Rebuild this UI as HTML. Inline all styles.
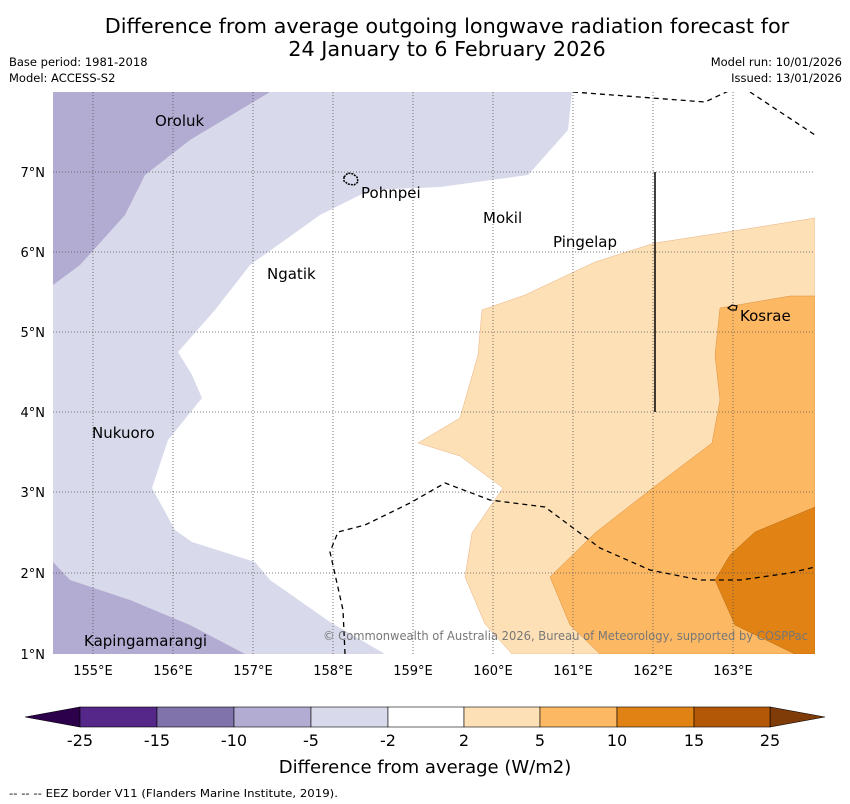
<!DOCTYPE html>
<html><head><meta charset="utf-8"><style>
body{margin:0;background:#fff;font-family:"DejaVu Sans","Liberation Sans",sans-serif}
svg{display:block}
</style></head><body>
<svg width="850" height="804" viewBox="0 0 850 804" font-family="DejaVu Sans, Liberation Sans, sans-serif">
<text x="447" y="33" font-size="20.8" text-anchor="middle">Difference from average outgoing longwave radiation forecast for</text>
<text x="447" y="56" font-size="20.8" text-anchor="middle">24 January to 6 February 2026</text>
<text x="9" y="66" font-size="11.5">Base period: 1981-2018</text>
<text x="9" y="82" font-size="11.5">Model: ACCESS-S2</text>
<text x="842" y="66" font-size="11.5" text-anchor="end">Model run: 10/01/2026</text>
<text x="842" y="82" font-size="11.5" text-anchor="end">Issued: 13/01/2026</text>
<defs><clipPath id="mc"><rect x="53" y="92" width="762" height="562"/></clipPath></defs>
<g clip-path="url(#mc)">
<rect x="53" y="92" width="762" height="562" fill="#fff"/>
<polygon fill="#d8daeb" points="53,92 572,92 568,130 528,175 440,187 370,190 320,215 250,265 215,310 178,352 192,375 202,398 168,440 152,488 175,530 192,542 255,562 270,580 330,622 385,654 53,654"/>
<polygon fill="#b2abd2" points="53,92 270,92 190,140 145,175 125,215 80,265 53,285"/>
<polygon fill="#b2abd2" points="53,562 70,580 130,600 190,625 245,654 53,654"/>
<polygon fill="#fee0b6" stroke="#e8b080" stroke-width="0.5" points="815,218 740,230 655,243 595,262 525,295 482,310 478,355 460,418 418,443 460,456 503,488 472,533 465,577 485,624 512,654 815,654"/>
<polygon fill="#fdb863" stroke="#d99040" stroke-width="0.5" points="815,296 790,296 720,308 715,355 720,400 712,443 650,490 595,533 550,577 570,625 600,654 815,654"/>
<polygon fill="#e08214" stroke="#b86a10" stroke-width="0.5" points="815,507 755,532 730,555 715,580 735,625 795,654 815,654"/>
<g stroke="#555" stroke-width="0.8" stroke-dasharray="1,2">
<line x1="93" y1="92" x2="93" y2="654"/><line x1="173" y1="92" x2="173" y2="654"/><line x1="253" y1="92" x2="253" y2="654"/><line x1="333" y1="92" x2="333" y2="654"/><line x1="413" y1="92" x2="413" y2="654"/><line x1="493" y1="92" x2="493" y2="654"/><line x1="573" y1="92" x2="573" y2="654"/><line x1="653" y1="92" x2="653" y2="654"/><line x1="733" y1="92" x2="733" y2="654"/>
<line x1="53" y1="172" x2="815" y2="172"/><line x1="53" y1="252" x2="815" y2="252"/><line x1="53" y1="332" x2="815" y2="332"/><line x1="53" y1="412" x2="815" y2="412"/><line x1="53" y1="492" x2="815" y2="492"/><line x1="53" y1="573" x2="815" y2="573"/>
</g>
<g fill="none" stroke="#000" stroke-width="1.3" stroke-dasharray="5,4">
<polyline points="573,92 705,102 735,88"/>
<polyline points="750,92 815,135"/>
<polyline points="345,654 343,610 330,552 338,532 365,525 410,503 445,483 490,500 545,507 600,548 650,570 700,580 740,580 790,573 815,567"/>
</g>
<line x1="655" y1="172" x2="655" y2="412" stroke="#000" stroke-width="1.5"/>
<path d="M344,177 l4,-4 l5,1 l4,3 l1,5 l-4,3 l-6,-1 l-4,-3z" fill="none" stroke="#000" stroke-width="1.5" stroke-dasharray="2,1"/>
<path d="M728,308 l4,-3 l5,1 l-1,4 l-5,0z" fill="none" stroke="#000" stroke-width="1.2"/>
<g font-size="15" fill="#000">
<text x="155" y="126">Oroluk</text>
<text x="361" y="198">Pohnpei</text>
<text x="483" y="223">Mokil</text>
<text x="553" y="247">Pingelap</text>
<text x="267" y="279">Ngatik</text>
<text x="740" y="321">Kosrae</text>
<text x="92" y="438">Nukuoro</text>
<text x="84" y="646">Kapingamarangi</text>
</g>
<text x="323" y="640" font-size="12" fill="#777" textLength="485" lengthAdjust="spacingAndGlyphs">© Commonwealth of Australia 2026, Bureau of Meteorology, supported by COSPPac</text>
</g>
<g font-size="13" text-anchor="middle">
<text x="93" y="675">155°E</text><text x="173" y="675">156°E</text><text x="253" y="675">157°E</text><text x="333" y="675">158°E</text><text x="413" y="675">159°E</text><text x="493" y="675">160°E</text><text x="573" y="675">161°E</text><text x="653" y="675">162°E</text><text x="733" y="675">163°E</text>
</g>
<g font-size="13" text-anchor="end">
<text x="45" y="177">7°N</text><text x="45" y="257">6°N</text><text x="45" y="337">5°N</text><text x="45" y="417">4°N</text><text x="45" y="497">3°N</text><text x="45" y="578">2°N</text><text x="45" y="659">1°N</text>
</g>
<g stroke="#000" stroke-width="0.6">
<polygon points="25,717 80,707 80,727" fill="#2d004b"/>
<polygon points="825,717 770,707 770,727" fill="#7f3b08"/>
<rect x="80" y="707" width="77" height="20" fill="#542788"/>
<rect x="157" y="707" width="77" height="20" fill="#8073ac"/>
<rect x="234" y="707" width="77" height="20" fill="#b2abd2"/>
<rect x="311" y="707" width="77" height="20" fill="#d8daeb"/>
<rect x="388" y="707" width="76" height="20" fill="#ffffff"/>
<rect x="464" y="707" width="76" height="20" fill="#fee0b6"/>
<rect x="540" y="707" width="77" height="20" fill="#fdb863"/>
<rect x="617" y="707" width="77" height="20" fill="#e08214"/>
<rect x="694" y="707" width="76" height="20" fill="#b35806"/>
</g>
<g font-size="16" text-anchor="middle">
<text x="80" y="746">-25</text><text x="157" y="746">-15</text><text x="234" y="746">-10</text><text x="311" y="746">-5</text><text x="388" y="746">-2</text><text x="464" y="746">2</text><text x="540" y="746">5</text><text x="617" y="746">10</text><text x="694" y="746">15</text><text x="770" y="746">25</text>
</g>
<text x="425" y="773" font-size="18" text-anchor="middle">Difference from average (W/m2)</text>
<text x="9" y="797" font-size="11" textLength="329" lengthAdjust="spacingAndGlyphs">--  --  -- EEZ border V11 (Flanders Marine Institute, 2019).</text>
</svg>
</body></html>
